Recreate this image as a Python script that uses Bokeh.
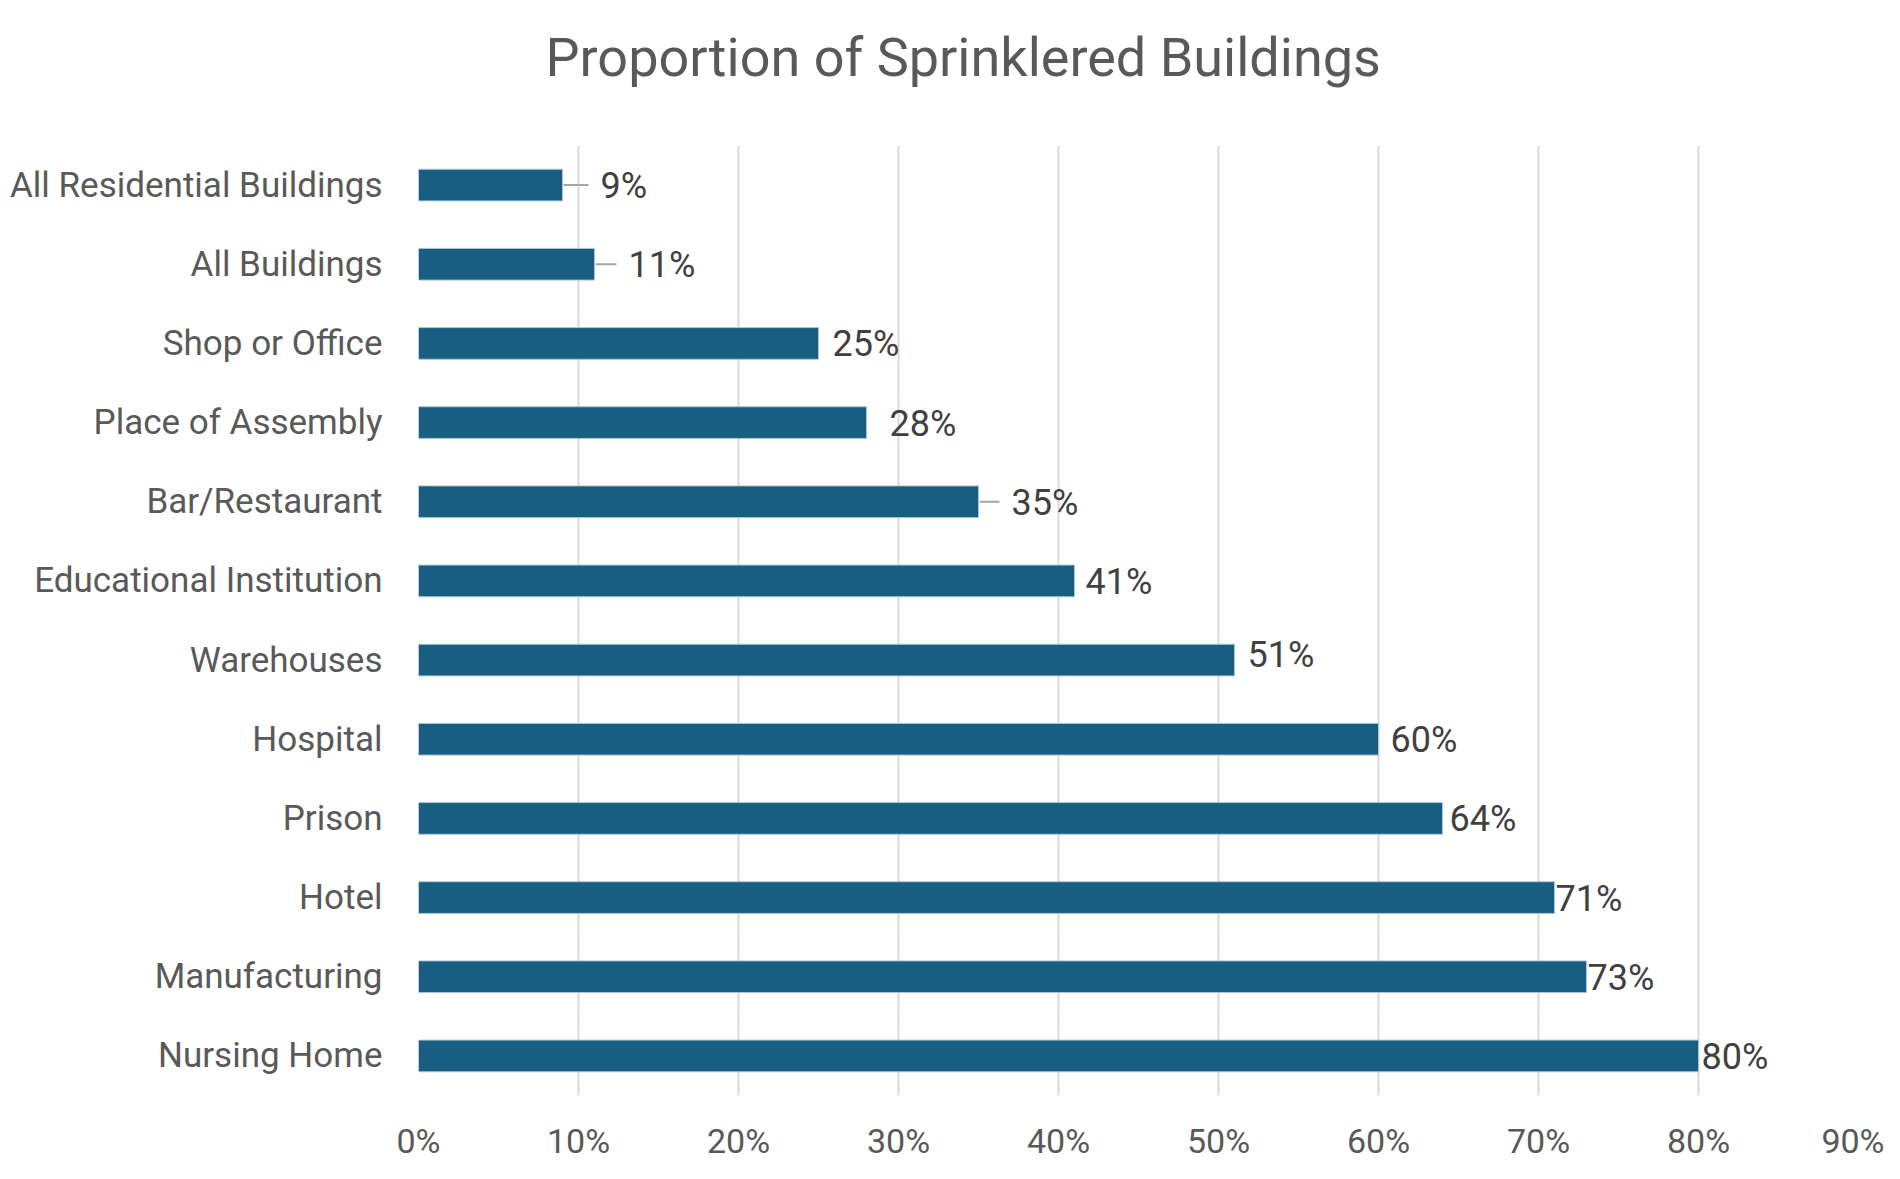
from bokeh.plotting import figure
from bokeh.models import FactorRange, Range1d, FixedTicker, PrintfTickFormatter, ColumnDataSource, Title
from bokeh.core.properties import value
from bokeh.embed import file_html
from bokeh.resources import INLINE

# ---- data (top to bottom) ----
categories = ["All Residential Buildings", "All Buildings", "Shop or Office", "Place of Assembly",
              "Bar/Restaurant", "Educational Institution", "Warehouses", "Hospital", "Prison",
              "Hotel", "Manufacturing", "Nursing Home"]
values = [9, 11, 25, 28, 35, 41, 51, 60, 64, 71, 73, 80]
x_ticks = [0, 10, 20, 30, 40, 50, 60, 70, 80, 90]
title_text = "Proportion of Sprinklered Buildings"

# ---- styling: label placement (screen px) ----
label_dx = [38, 34, 14, 23, 33, 11, 13, 12, 7, 1, 1, 3]
label_dy = [1, 1, 1, 1, 1, 1, -5, 1, 1, 1, 1, 1]
leader_px = [26, 22, 0, 0, 21, 0, 0, 0, 0, 0, 0, 0]

FONT = "Roboto"
W, H = 1884, 1163
BL, BR, BT, BB = 418, 26, 145, 66
frame_w = W - BL - BR
px_to_data = (x_ticks[-1] - x_ticks[0]) / frame_w

p = figure(width=W, height=H, output_backend="svg", toolbar_location=None,
           y_range=FactorRange(factors=categories[::-1], range_padding=0),
           x_range=Range1d(x_ticks[0], x_ticks[-1]),
           min_border_left=BL, min_border_right=BR, min_border_top=BT, min_border_bottom=BB)
p.outline_line_color = None
p.background_fill_color = "white"
p.border_fill_color = "white"

# spacer between title and plot frame (closer to the frame than the main title)
p.add_layout(Title(text=" ", text_font=FONT, text_font_size="20px", standoff=9), "above")

p.title.text = title_text
p.title.align = "left"
p.title.offset = 127
p.title.standoff = 44
p.title.text_font = FONT
p.title.text_font_size = "54px"
p.title.text_font_style = "normal"
p.title.text_color = "#595959"

src = ColumnDataSource(dict(cat=categories, val=values,
                            lab=[f"{v}%" for v in values], dx=label_dx, dy=label_dy))
p.hbar(y="cat", right="val", left=0, height=0.40, source=src,
       fill_color="#175E80", line_color="#A9C5D8", line_width=1)

# leader lines
lx0, lx1, ly = [], [], []
for c, v, L in zip(categories, values, leader_px):
    if L > 0:
        lx0.append(v + 1 * px_to_data)
        lx1.append(v + L * px_to_data)
        ly.append(c)
p.segment(x0=lx0, x1=lx1, y0=ly, y1=ly, line_color="#A6A6A6", line_width=2)

p.text(x="val", y="cat", text="lab", x_offset="dx", y_offset="dy", source=src,
       text_font=value(FONT), text_font_size="36px", text_color="#404040",
       text_align="left", text_baseline="middle")

# axes
p.xaxis.ticker = FixedTicker(ticks=x_ticks)
p.xaxis.formatter = PrintfTickFormatter(format="%d%%")
p.xaxis.axis_line_color = None
p.xaxis.major_tick_line_color = None
p.xaxis.minor_tick_line_color = None
p.xaxis.major_tick_out = 0
p.xaxis.major_tick_in = 0
p.xaxis.minor_tick_out = 0
p.xaxis.major_label_text_font = FONT
p.xaxis.major_label_text_font_size = "34px"
p.xaxis.major_label_text_color = "#595959"
p.xaxis.major_label_standoff = 25

p.yaxis.axis_line_color = None
p.yaxis.major_tick_line_color = None
p.yaxis.minor_tick_line_color = None
p.yaxis.major_tick_out = 0
p.yaxis.major_tick_in = 0
p.yaxis.minor_tick_out = 0
p.yaxis.major_label_text_font = FONT
p.yaxis.major_label_text_font_size = "35px"
p.yaxis.major_label_text_color = "#595959"
p.yaxis.major_label_standoff = 36

p.xgrid.ticker = FixedTicker(ticks=x_ticks)
p.xgrid.grid_line_color = "#D9D9D9"
p.xgrid.grid_line_width = 2
p.ygrid.grid_line_color = None

open("out.html", "w").write(file_html(p, INLINE))
